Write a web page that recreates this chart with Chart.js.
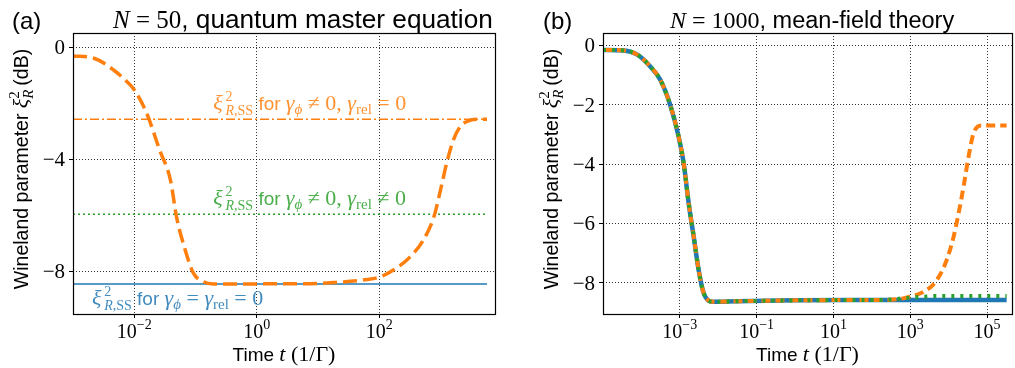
<!DOCTYPE html>
<html>
<head>
<meta charset="utf-8">
<script src="https://cdn.jsdelivr.net/npm/chart.js@4.4.1/dist/chart.umd.min.js"></script>
<style>
  body { margin: 0; background: #fff; }
  #wrap { position: relative; width: 1015px; height: 368px; }
  canvas { position: absolute; top: 0; }
  #ca { left: 0; }
  #cb { left: 507px; }
</style>
</head>
<body>
<div id="wrap">
  <canvas id="ca" width="507" height="368"></canvas>
  <canvas id="cb" width="508" height="368"></canvas>
</div>
<script>
// panel (a): N = 50, quantum master equation
const timeA = [1e-3, 2.2e-3, 4.6e-3, 7.6e-3, 1e-2, 1.6e-2, 2.6e-2, 3.9e-2, 4.9e-2, 6.8e-2, 9.3e-2, 0.135, 0.195, 0.5, 2, 5, 18, 63, 105, 170, 320, 525, 780, 1000, 1260, 1620, 2100, 2700, 3900, 5750];
const xiA = [-0.31, -0.39, -0.81, -1.23, -1.52, -2.36, -3.67, -4.74, -6.05, -7.24, -8.07, -8.37, -8.45, -8.45, -8.44, -8.44, -8.40, -8.29, -8.19, -7.95, -7.48, -6.88, -6.05, -5.1, -4.14, -3.31, -2.83, -2.65, -2.57, -2.57];
const ssNone = -8.45;   // gamma_phi = gamma_rel = 0
const ssDeph = -2.57;   // gamma_phi != 0, gamma_rel = 0
const ssBoth = -5.96;   // gamma_phi != 0, gamma_rel != 0
const xTicksA = [1e-2, 1, 1e2];
const yTicksA = [0, -4, -8];

// panel (b): N = 1000, mean-field theory
const timeB = [1e-5, 3.5e-5, 7.8e-5, 1.7e-4, 3.1e-4, 5.6e-4, 9.3e-4, 1.26e-3, 1.7e-3, 2.3e-3, 3.1e-3, 4.2e-3, 7.6e-3, 0.03, 1, 30, 100, 300, 830, 2700, 4900, 8900, 13500, 18200, 24500, 33000, 44700, 72400, 263000, 324000];
const xiNoneB = [-0.15, -0.17, -0.31, -0.71, -1.16, -2.0, -3.07, -3.97, -5.32, -6.45, -7.58, -8.36, -8.65, -8.63, -8.60, -8.59, -8.59, -8.59, -8.59, -8.59, -8.59, -8.59, -8.59, -8.59, -8.59, -8.59, -8.59, -8.59, -8.59, -8.59];
const xiDephB = [-0.15, -0.17, -0.31, -0.71, -1.16, -2.0, -3.07, -3.97, -5.32, -6.45, -7.58, -8.36, -8.65, -8.63, -8.60, -8.59, -8.59, -8.58, -8.50, -8.25, -7.92, -7.24, -6.45, -5.66, -4.76, -3.75, -2.96, -2.70, -2.70, -2.70];
const xiBothB = [-0.15, -0.17, -0.31, -0.71, -1.16, -2.0, -3.07, -3.97, -5.32, -6.45, -7.58, -8.36, -8.65, -8.63, -8.60, -8.59, -8.59, -8.57, -8.52, -8.47, -8.45, -8.45, -8.45, -8.45, -8.45, -8.45, -8.45, -8.45, -8.45, -8.45];
const xTicksB = [1e-3, 1e-1, 1e1, 1e3, 1e5];
const yTicksB = [0, -2, -4, -6, -8];

const BLUE = "#1f77b4", ORANGE = "#ff7f0e", GREEN = "#2ca02c";
const SERIF = '"Liberation Serif", "DejaVu Serif", serif';
const SANS = '"Liberation Sans", Arial, sans-serif';
const sf = (px, it) => `${it ? "italic " : ""}${px}px ${SERIF}`;
const ss = (px) => `${px}px ${SANS}`;

// runs: [text, font, dy, overlay-previous]
function runsWidth(ctx, runs) {
  let w = 0, last = 0;
  for (const r of runs) {
    ctx.font = r[1];
    const m = ctx.measureText(r[0]).width;
    if (r[3]) { w += Math.max(last, m) - last; last = Math.max(last, m); }
    else { w += m; last = m; }
  }
  return w;
}
function drawRuns(ctx, x, y, runs, color, align) {
  const w = runsWidth(ctx, runs);
  let cx = align === "center" ? x - w / 2 : align === "right" ? x - w : x;
  let start = cx, last = 0;
  ctx.fillStyle = color;
  ctx.textAlign = "left";
  ctx.textBaseline = "alphabetic";
  for (const r of runs) {
    ctx.font = r[1];
    const m = ctx.measureText(r[0]).width;
    if (r[3]) {
      ctx.fillText(r[0], start, y + r[2]);
      const nw = Math.max(last, m);
      cx = start + nw; last = nw;
    } else {
      ctx.fillText(r[0], cx, y + r[2]);
      start = cx; cx += m; last = m;
    }
  }
}

const xiSS = [["ξ", sf(22, true), 0], ["\u20092", sf(14), -9], ["\u2009R", sf(14, true), 5, true], [",SS", sf(14), 5]];
const gammaPhi = [["γ", sf(22, true), 0], ["ϕ", sf(15, true), 4]];
const gammaRel = [["γ", sf(22, true), 0], ["rel", sf(15), 4]];
const rel = (s) => [["\u2005" + s + "\u2005", sf(22), 0]];

function yLabel(ctx, x, y) {
  ctx.save();
  ctx.translate(x, y);
  ctx.rotate(-Math.PI / 2);
  drawRuns(ctx, 0, 0, [["Wineland parameter ", ss(19.5), 0], ["ξ", sf(22, true), 0], ["2", sf(15), -9], ["R", sf(15, true), 5, true], ["\u2009(dB)", ss(19.5), 0]], "#000", "center");
  ctx.restore();
}

function decorate(opts) {
  return {
    id: "deco",
    afterDraw(chart) {
      const ctx = chart.ctx, a = chart.chartArea;
      const xs = chart.scales.x, ys = chart.scales.y;
      ctx.save();
      ctx.strokeStyle = "#000";
      ctx.lineWidth = 1.2;
      ctx.strokeRect(Math.round(a.left) + 0.5, Math.round(a.top) + 0.5, Math.round(a.right - a.left), Math.round(a.bottom - a.top));
      opts.xTicks.forEach(v => {
        const e = Math.round(Math.log10(v));
        const es = e < 0 ? "−" + (-e) : String(e);
        drawRuns(ctx, xs.getPixelForValue(v), 338, [["10", sf(20), 0], [es, sf(14), -9]], "#000", "center");
      });
      opts.yTicks.forEach(v => {
        const s = v < 0 ? "−" + (-v) : String(v);
        drawRuns(ctx, a.left - 8, ys.getPixelForValue(v) + 7, [[s, sf(21), 0]], "#000", "right");
      });
      drawRuns(ctx, (a.left + a.right) / 2, 361, [["Time ", ss(19), 0], ["t", sf(22, true), 0], ["\u2005(1/Γ)", sf(22), 0]], "#000", "center");
      yLabel(ctx, opts.yLabelX, 169);
      drawRuns(ctx, opts.panelX, 29, [[opts.panel, ss(24), 0]], "#000", "left");
      drawRuns(ctx, opts.titleX, 28, opts.title, "#000", "left");
      if (opts.notes) opts.notes(ctx, xs, ys);
      ctx.restore();
    }
  };
}

function scales(xmin, xmax, xt, ymin, ymax, yt, yw) {
  const grid = { color: "rgba(0,0,0,0.8)", lineWidth: 1, tickLength: 4, tickColor: "#000", tickWidth: 1 };
  return {
    x: {
      type: "logarithmic", min: xmin, max: xmax,
      afterBuildTicks: s => { s.ticks = xt.map(v => ({ value: v })); },
      afterFit: s => { s.height = 54; },
      ticks: { display: false },
      grid: grid,
      border: { display: false, dash: [1, 2] }
    },
    y: {
      type: "linear", min: ymin, max: ymax,
      afterBuildTicks: s => { s.ticks = yt.map(v => ({ value: v })); },
      afterFit: s => { s.width = yw; },
      ticks: { display: false },
      grid: grid,
      border: { display: false, dash: [1, 2] }
    }
  };
}

const pts = (xs, ys) => xs.map((x, i) => ({ x: x, y: ys[i] }));
const flat = (xs, v) => [{ x: xs[0], y: v }, { x: xs[xs.length - 1], y: v }];
const common = { pointRadius: 0, fill: false, borderCapStyle: "butt", cubicInterpolationMode: "monotone" };

new Chart(document.getElementById("ca"), {
  type: "line",
  data: {
    datasets: [
      { ...common, data: pts(timeA, xiA), borderColor: ORANGE, borderWidth: 3.5, borderDash: [14, 6], order: 1 },
      { ...common, data: flat(timeA, ssNone), borderColor: BLUE, borderWidth: 1.6, order: 4 },
      { ...common, data: flat(timeA, ssDeph), borderColor: ORANGE, borderWidth: 1.6, borderDash: [9, 3, 2, 3], order: 3 },
      { ...common, data: flat(timeA, ssBoth), borderColor: GREEN, borderWidth: 1.6, borderDash: [2, 3], order: 2 }
    ]
  },
  options: {
    responsive: false, animation: false,
    layout: { padding: { top: 33, right: 12, left: 0, bottom: 0 } },
    plugins: { legend: { display: false }, tooltip: { enabled: false } },
    scales: scales(1e-3, Math.pow(10, 3.89), xTicksA, -9.52, 0.51, yTicksA, 73)
  },
  plugins: [decorate({
    xTicks: xTicksA, yTicks: yTicksA, yLabelX: 28, panel: "(a)", panelX: 12, titleX: 113,
    title: [["N", sf(25, true), 0], ["\u2005=\u200550", sf(25), 0], [", quantum master equation", ss(26.2), 0]],
    notes(ctx, xs, ys) {
      drawRuns(ctx, xs.getPixelForValue(0.195), ys.getPixelForValue(-2.24), [...xiSS, [" for ", ss(19), 0], ...gammaPhi, ...rel("≠"), ["0,\u2005", sf(22), 0], ...gammaRel, ...rel("="), ["0", sf(22), 0]], "rgba(255,127,14,0.85)", "left");
      drawRuns(ctx, xs.getPixelForValue(0.195), ys.getPixelForValue(-5.63), [...xiSS, [" for ", ss(19), 0], ...gammaPhi, ...rel("≠"), ["0,\u2005", sf(22), 0], ...gammaRel, ...rel("≠"), ["0", sf(22), 0]], "rgba(44,160,44,0.85)", "left");
      drawRuns(ctx, xs.getPixelForValue(0.00204), ys.getPixelForValue(-9.2), [...xiSS, [" for ", ss(19), 0], ...gammaPhi, ...rel("="), ...gammaRel, ...rel("="), ["0", sf(22), 0]], "rgba(31,119,180,0.85)", "left");
    }
  })]
});

new Chart(document.getElementById("cb"), {
  type: "line",
  data: {
    datasets: [
      { ...common, data: pts(timeB, xiNoneB), borderColor: BLUE, borderWidth: 4.5, order: 3 },
      { ...common, data: pts(timeB, xiDephB), borderColor: ORANGE, borderWidth: 4, borderDash: [9, 5], order: 2 },
      { ...common, data: pts(timeB, xiBothB), borderColor: GREEN, borderWidth: 4, borderDash: [3, 6], order: 1 }
    ]
  },
  options: {
    responsive: false, animation: false,
    layout: { padding: { top: 33, right: 3, left: 0, bottom: 0 } },
    plugins: { legend: { display: false }, tooltip: { enabled: false } },
    scales: scales(1e-5, Math.pow(10, 5.65), xTicksB, -9.06, 0.42, yTicksB, 96)
  },
  plugins: [decorate({
    xTicks: xTicksB, yTicks: yTicksB, yLabelX: 51, panel: "(b)", panelX: 36, titleX: 163,
    title: [["N", sf(24, true), 0], ["\u2005=\u20051000", sf(24), 0], [", mean-field theory", ss(23.5), 0]]
  })]
});
</script>
</body>
</html>
